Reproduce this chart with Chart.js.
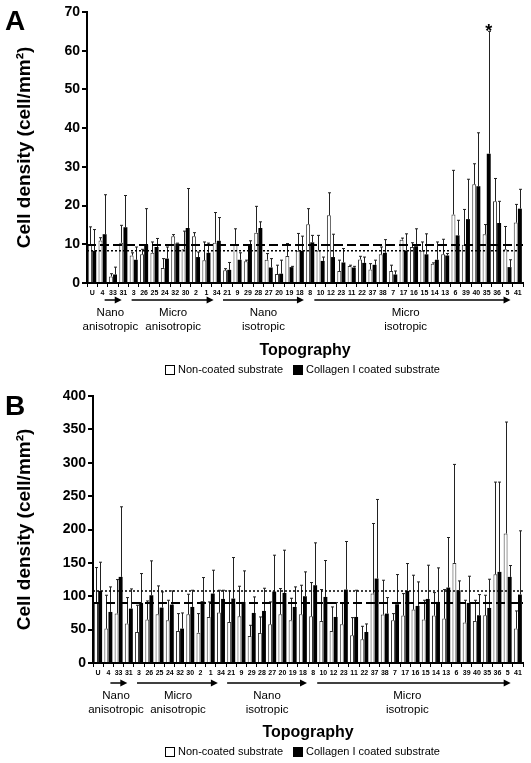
<!DOCTYPE html>
<html>
<head>
<meta charset="utf-8">
<script src="https://cdn.jsdelivr.net/npm/chart.js@4.4.1/dist/chart.umd.min.js"></script>
<style>
  body { margin: 0; background: #fff; }
  canvas { display: block; }
</style>
</head>
<body>
<canvas id="chartA" width="531" height="380"></canvas>
<canvas id="chartB" width="531" height="383"></canvas>
<script>
// topography order on the x axis (same for both panels)
const categories = ['U','4','33','31','3','26','25','24','32','30','2','1','34','21','9','29','28','27','20','19','18','8',
  '10','12','23','11','22','37','38','7','17','16','15','14','13','6','39','40','35','36','5','41'];

// Panel A - means and SD
const nonCoatedA = [9.8,11.0,1.7,10.4,7.1,7.4,7.8,3.9,12.1,8.7,12.1,5.9,10.4,3.3,10.0,5.6,13.0,6.0,2.3,7.0,8.3,15.2,
  8.4,17.5,3.1,4.4,6.1,3.5,7.4,3.1,11.2,9.3,8.3,5.0,7.4,17.7,9.9,25.5,12.6,21.1,8.7,15.6];
const nonCoatedSdA = [4.7,0.7,0.7,4.5,0.7,1.3,2.8,2.4,0.4,4.7,0.9,4.7,7.8,0.4,4.0,0.3,6.8,1.6,2.3,3.2,4.5,4.0,
  3.9,5.8,2.8,0.2,0.8,1.5,1.9,1.5,0.4,1.1,2.3,0.2,3.9,11.4,9.1,5.3,2.5,5.9,5.9,4.7];
const coatedA = [8.3,12.6,2.2,14.4,6.0,9.9,9.3,6.3,10.2,14.2,6.7,7.8,10.9,3.4,6.0,9.7,14.2,4.0,2.4,4.1,8.3,10.5,
  5.7,6.7,5.3,4.0,5.2,4.7,7.8,2.2,8.4,9.5,7.4,6.0,7.1,12.3,16.5,25.0,33.4,15.5,4.1,19.2];
const coatedSdA = [5.5,10.2,1.9,8.2,3.3,9.3,2.2,3.0,0.1,10.2,1.3,2.5,6.0,1.9,1.8,1.2,1.6,2.3,3.5,0.2,3.8,1.8,
  1.0,5.9,3.6,0.3,1.5,1.2,3.4,0.9,4.3,4.5,5.3,4.6,0.5,3.9,10.3,13.8,31.6,5.6,1.9,5.0];

// Panel B - means and SD
const nonCoatedB = [90,51.5,74,59,46.5,65,73,64,48,73,45.5,69,75.5,61.5,70,40.5,45,58,73,64,73,70,
  63,48,58,41.5,35.5,104,72.5,64,71,80,65,71,66.5,150,60.5,63,71.5,133,194,51.5];
const nonCoatedSdB = [53,50,51,39,40,28,42.5,30,26,30,28.5,22.5,33.5,46.5,45,16,24,33.5,38.5,33,43.5,50.5,
  47,36,32,26.5,19.5,105,51.5,10,33,51.5,29,34.5,43.5,147.5,33.5,31,30,138,167,26.5];
const coatedB = [108,76.5,129,81.5,90,101.5,83,87.5,51.5,84,92.5,104,96,96.5,91.5,75,78,107,105,84,100,116.5,
  99,69,110,69,46.5,126.5,74,88,108,85.5,96,91.5,113,109,90,71.5,82.5,136.5,129,102.5];
const coatedSdB = [43,37.5,105,29.5,44,51.5,23.5,20.5,23.5,25,35.5,35,13,61.5,46.5,24,34,54.5,64,30,36.5,63.5,
  54.5,21.5,72,40,12,118.5,24,44.5,41,36,50.5,51,75,14,40,31,43,134.5,17,95.5];

const groupNames = [['Nano','anisotropic'], ['Micro','anisotropic'], ['Nano','isotropic'], ['Micro','isotropic']];

Chart.defaults.font.family = "'Liberation Sans', Arial, sans-serif";
Chart.defaults.color = '#000';

// upper error bars, reference lines, group arrows, legend, panel letter
const extras = {
  id: 'extras',
  afterDatasetsDraw(chart, args, opts) {
    const ctx = chart.ctx;
    const y = chart.scales.y, x = chart.scales.x;
    const area = chart.chartArea;
    ctx.save();

    // error bars
    ctx.strokeStyle = '#222';
    ctx.lineWidth = 1;
    chart.data.datasets.forEach((ds, di) => {
      chart.getDatasetMeta(di).data.forEach((bar, i) => {
        const top = y.getPixelForValue(ds.data[i] + ds.sd[i]);
        const bx = Math.round(bar.x) + 0.5;
        ctx.beginPath();
        ctx.moveTo(bx, bar.y);
        ctx.lineTo(bx, top);
        ctx.moveTo(bx - 1.5, top);
        ctx.lineTo(bx + 1.5, top);
        ctx.stroke();
      });
    });

    // control (U) reference lines
    const dashY = y.getPixelForValue(chart.data.datasets[0].data[0]);
    const dotY = y.getPixelForValue(chart.data.datasets[1].data[0]);
    ctx.strokeStyle = '#000';
    ctx.lineWidth = 2;
    ctx.setLineDash([9, 4]);
    ctx.beginPath(); ctx.moveTo(area.left, dashY); ctx.lineTo(area.right, dashY); ctx.stroke();
    ctx.lineWidth = 1.5;
    ctx.setLineDash([2, 2]);
    ctx.beginPath(); ctx.moveTo(area.left, dotY); ctx.lineTo(area.right, dotY); ctx.stroke();
    ctx.setLineDash([]);

    // asterisk
    if (opts.starAt != null) {
      const i = opts.starAt;
      const ds = chart.data.datasets[1];
      const bar = chart.getDatasetMeta(1).data[i];
      ctx.font = "bold 18px 'Liberation Sans', Arial";
      ctx.textAlign = 'center';
      ctx.textBaseline = 'alphabetic';
      ctx.fillText('*', bar.x, y.getPixelForValue(ds.data[i] + ds.sd[i]) + 6);
    }

    // group arrows and labels
    const ay = opts.arrowY;
    ctx.lineWidth = 1.5;
    opts.groupFrom.forEach((from, g) => {
      const x0 = x.getPixelForValue(from), x1 = x.getPixelForValue(opts.groupTo[g]);
      ctx.beginPath(); ctx.moveTo(x0, ay); ctx.lineTo(x1 - 5, ay); ctx.stroke();
      ctx.beginPath(); ctx.moveTo(x1, ay); ctx.lineTo(x1 - 7, ay - 3.5); ctx.lineTo(x1 - 7, ay + 3.5); ctx.closePath(); ctx.fill();
      const lx = x.getPixelForValue(opts.groupLabelAt[g]);
      ctx.font = "11.5px 'Liberation Sans', Arial";
      ctx.textAlign = 'center';
      ctx.textBaseline = 'middle';
      ctx.fillText(groupNames[g][0], lx, ay + 13);
      ctx.fillText(groupNames[g][1], lx, ay + 27);
    });

    // legend
    const ly = opts.legendY;
    ctx.font = "11px 'Liberation Sans', Arial";
    ctx.textAlign = 'left';
    ctx.textBaseline = 'middle';
    ctx.lineWidth = 1;
    ctx.strokeRect(165.5, ly - 4.5, 9, 9);
    ctx.fillText(chart.data.datasets[0].label, 178, ly);
    ctx.fillRect(293, ly - 5, 10, 10);
    ctx.fillText(chart.data.datasets[1].label, 306, ly);

    // panel letter
    ctx.font = "bold 28px 'Liberation Sans', Arial";
    ctx.textBaseline = 'alphabetic';
    ctx.fillText(opts.letter, 5, opts.letterY);

    ctx.restore();
  }
};

function makeChart(id, nc, ncSd, co, coSd, yMax, step, o) {
  const canvas = document.getElementById(id);
  return new Chart(canvas, {
    type: 'bar',
    data: {
      labels: categories,
      datasets: [
        { label: 'Non-coated substrate', data: nc, sd: ncSd, backgroundColor: '#fff', borderColor: '#333', borderWidth: 1 },
        { label: 'Collagen I coated substrate', data: co, sd: coSd, backgroundColor: '#000', borderColor: '#000', borderWidth: 0 }
      ]
    },
    options: {
      responsive: false,
      animation: false,
      events: [],
      datasets: { bar: { categoryPercentage: 0.8, barPercentage: 0.95 } },
      layout: { padding: { left: 13, top: o.top, right: 8, bottom: 0 } },
      scales: {
        x: {
          afterFit: s => { s.height = canvas.height - 283; },
          border: { display: true, color: '#000', width: 2 },
          grid: { drawOnChartArea: false, tickLength: 4, color: '#000', lineWidth: 1 },
          ticks: { autoSkip: false, maxRotation: 0, minRotation: 0, padding: 2, font: { size: 7, weight: 'bold' } },
          title: { display: true, text: 'Topography', font: { size: 16, weight: 'bold' }, padding: { top: 0, bottom: o.titlePad } }
        },
        y: {
          min: 0, max: yMax,
          afterFit: s => { s.width = o.axisX - 13; },
          border: { display: true, color: '#000', width: 2 },
          grid: { drawOnChartArea: false, tickLength: 5, color: '#000', lineWidth: 2 },
          ticks: { stepSize: step, padding: 2, font: { size: 14, weight: 'bold' } },
          title: { display: true, text: 'Cell density (cell/mm²)', font: { size: 19, weight: 'bold' }, padding: 0 }
        }
      },
      plugins: {
        legend: { display: false },
        tooltip: { enabled: false },
        extras: o
      }
    },
    plugins: [extras]
  });
}

const groupFrom = [1.2, 3.8, 12.6, 21.4];
const groupTo = [2.85, 11.7, 20.4, 40.3];
const groupLabelAt = [1.75, 7.8, 16.5, 30.2];

makeChart('chartA', nonCoatedA, nonCoatedSdA, coatedA, coatedSdA, 70, 10, {
  top: 12, axisX: 87, titlePad: 20, arrowY: 300, legendY: 370, letter: 'A', letterY: 30, starAt: 38,
  groupFrom, groupTo, groupLabelAt
});
makeChart('chartB', nonCoatedB, nonCoatedSdB, coatedB, coatedSdB, 400, 50, {
  top: 16, axisX: 93, titlePad: 21, arrowY: 303, legendY: 372, letter: 'B', letterY: 35, starAt: null,
  groupFrom, groupTo, groupLabelAt
});
</script>
</body>
</html>
